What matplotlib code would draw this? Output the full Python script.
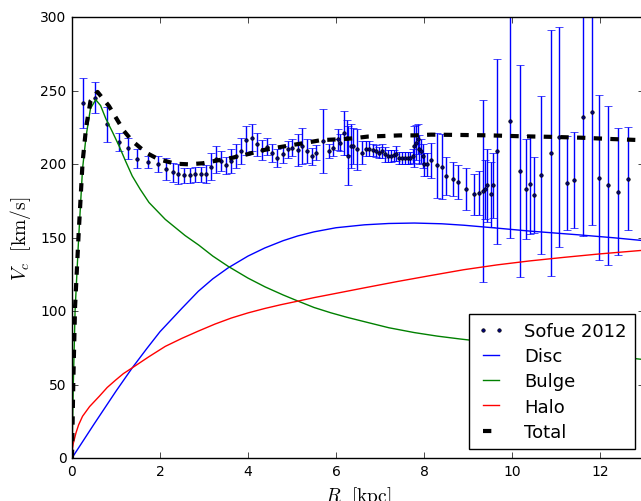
import matplotlib
matplotlib.use('Agg')
import matplotlib.pyplot as plt

# Sofue 2012 rotation curve points (R [kpc], V [km/s], error)
r_obs = [0.26, 0.52, 0.80, 1.07, 1.27, 1.47, 1.73, 1.95, 2.14, 2.29,
         2.42, 2.55, 2.68, 2.80, 2.93, 3.05, 3.15, 3.27, 3.38, 3.51,
         3.62, 3.73, 3.85, 3.96, 4.08, 4.21, 4.32, 4.43, 4.55, 4.66,
         4.79, 4.90, 5.01, 5.13, 5.22, 5.34, 5.45, 5.54, 5.70, 5.84,
         5.94, 6.05, 6.10, 6.18, 6.24, 6.28, 6.33, 6.39, 6.48, 6.58,
         6.68, 6.75, 6.83, 6.90, 6.98, 7.05, 7.12, 7.18, 7.25, 7.31,
         7.37, 7.44, 7.50, 7.57, 7.63, 7.69, 7.74, 7.78, 7.82, 7.86,
         7.89, 7.93, 7.97, 8.00, 8.06, 8.17, 8.29, 8.40, 8.50, 8.65,
         8.78, 8.95, 9.13, 9.25, 9.34, 9.38, 9.44, 9.53, 9.57, 9.66,
         9.95, 10.19, 10.32, 10.40, 10.49, 10.67, 10.88, 11.07, 11.24, 11.42,
         11.62, 11.81, 11.98, 12.18, 12.41, 12.63]
v_obs = [242.0, 245.4, 227.2, 215.2, 210.9, 203.9, 201.5, 200.0, 196.6, 194.7,
         193.2, 192.5, 192.5, 193.2, 193.2, 193.2, 198.4, 203.4, 202.2, 199.3,
         202.2, 205.6, 209.0, 216.3, 218.2, 213.6, 209.7, 212.0, 207.5, 204.5,
         206.8, 210.2, 211.4, 209.7, 212.4, 209.0, 205.4, 208.0, 215.8, 209.0,
         211.4, 217.0, 214.8, 221.6, 218.2, 205.8, 212.4, 212.4, 210.2, 208.0,
         210.7, 210.7, 209.7, 209.0, 208.0, 209.0, 206.8, 205.6, 205.6, 206.0,
         207.3, 204.5, 204.5, 204.5, 204.5, 204.5, 205.6, 212.4, 214.8, 217.3,
         210.2, 209.0, 205.6, 200.0, 200.0, 202.7, 199.3, 198.4, 192.0, 189.8,
         188.2, 183.4, 179.5, 180.2, 181.8, 182.9, 185.7, 179.5, 185.7, 209.0,
         229.5, 195.4, 182.9, 186.3, 179.0, 192.7, 207.7, 218.6, 187.0, 189.3,
         232.2, 235.9, 190.9, 185.7, 181.4, 190.2]
v_err = [17, 10.7, 12, 6, 7, 6.5, 4, 5.5, 7.5, 6.5,
         6.8, 5, 5, 5, 5, 6, 9, 9.4, 7, 6,
         8, 8, 9, 10, 9, 8, 7, 6, 6, 6,
         6, 6, 6, 11, 12, 8, 6, 5, 22, 5,
         6, 7, 6, 15, 12, 20, 15, 12, 14, 8,
         5, 5, 4, 4, 4, 5, 5, 4, 4, 4,
         5, 4, 4, 4, 4, 4, 5, 14, 12, 10,
         10, 8, 8, 8, 8, 12, 22, 22, 12.7, 11.6,
         11.6, 14.4, 14, 15, 62, 20, 25, 22, 22, 63,
         80, 72, 34, 34, 26, 54, 84, 75, 32, 33,
         81, 77, 56, 54, 43, 35]

# model components
r_disc = [0, 0.5, 1.0, 1.37, 1.7, 2.0, 2.5, 2.87, 3.2, 3.55, 4.0, 4.38,
          4.8, 5.13, 5.5, 6.0, 6.65, 7.2, 7.78, 8.4, 8.91, 9.6, 10.41,
          11.5, 12.3, 13.0]
v_disc = [0, 23, 45.5, 61.4, 74.5, 86, 102, 113.5, 122, 129.5, 137.5, 143,
          148, 151.2, 154, 156.8, 158.8, 159.7, 160, 159.5, 158.5, 156.7, 154.5,
          152, 150, 148]

r_bulge = [0, 0.03, 0.07, 0.15, 0.24, 0.32, 0.42, 0.54, 0.65, 0.77, 0.92,
           1.07, 1.22, 1.37, 1.55, 1.75, 2.12, 2.57, 2.88, 3.2, 3.55, 4.0,
           4.39, 4.8, 5.14, 5.5, 5.88, 6.25, 6.65, 7.2, 7.78, 8.3, 8.83,
           10.0, 11.0, 12.0, 13.0]
v_bulge = [0, 50, 100, 149, 197, 219, 238, 244, 240, 231, 222,
           212.5, 202, 192, 183, 174, 162.5, 151.5, 145, 137.5, 130.5, 122.5,
           116.5, 111, 106.8, 102.5, 98.9, 95.8, 92.8, 88.7, 85.4, 83, 81,
           77, 73.8, 70.3, 67]

r_halo = [0, 0.01, 0.03, 0.09, 0.15, 0.24, 0.4, 0.62, 0.8, 0.99, 1.17,
          1.37, 1.75, 2.12, 2.5, 2.87, 3.25, 3.62, 4.0, 4.38, 4.75, 5.13,
          5.5, 5.88, 6.65, 7.4, 8.16, 8.9, 9.66, 10.4, 11.17, 12.0, 13.0]
v_halo = [0, 6, 10, 17, 22.5, 28.4, 35, 42, 48, 53, 57.5,
          61.4, 69, 76, 81.5, 86.4, 91.2, 95.3, 98.8, 101.8, 104.4, 106.8,
          109.2, 111.4, 115.9, 120.2, 124.3, 128.2, 131.5, 134.2, 136.6, 139, 141.5]

r_total = [0, 0.03, 0.07, 0.15, 0.24, 0.32, 0.42, 0.58, 0.84, 1.18, 1.37,
           1.68, 1.97, 2.35, 2.65, 2.97, 3.35, 3.65, 3.98, 4.32, 4.66, 5.0,
           5.34, 5.67, 6.05, 6.39, 6.73, 7.11, 7.45, 7.79, 8.16, 8.8, 9.5,
           10.2, 10.89, 11.59, 12.28, 13.0]
v_total = [0, 52, 103, 152, 201, 225, 243, 249.3, 239.7, 222.7, 215.9,
           208, 203.4, 200.4, 200, 200.7, 202.9, 204.5, 206.8, 209.5, 211.4, 213.1,
           214.8, 216.5, 217, 217.7, 218.9, 219.3, 219.7, 219.7, 220.2, 220, 219.7,
           219.1, 218.7, 218.1, 217.2, 216.4]

plt.style.use('classic')

fig = plt.figure(figsize=(6.41, 5.02), dpi=100, facecolor='white')
ax = fig.add_axes([0.1123, 0.0857, 0.8924, 0.8775])

# error bars without legend entry, dots carry the label
ax.errorbar(r_obs, v_obs, yerr=v_err, fmt='none', ecolor='b', elinewidth=1,
            capsize=3)
ax.plot(r_obs, v_obs, linestyle='none', marker='.', color='navy', mec='k',
        ms=5, label='Sofue 2012')

ax.plot(r_disc, v_disc, 'b-', lw=1, label='Disc')
ax.plot(r_bulge, v_bulge, 'g-', lw=1, label='Bulge')
ax.plot(r_halo, v_halo, 'r-', lw=1, label='Halo')
ax.plot(r_total, v_total, 'k--', lw=3, label='Total')

ax.set_xlim(0, 13)
ax.set_ylim(0, 300)
ax.set_xticks([0, 2, 4, 6, 8, 10, 12])
ax.tick_params(labelsize=10)

ax.set_xlabel(r'$R\ \ [\mathrm{kpc}]$', fontsize=14)
ax.set_ylabel(r'$V_c\ \ [\mathrm{km/s}]$', fontsize=14)

ax.legend(loc='lower right', numpoints=2, fontsize=13, handlelength=1.5,
          handletextpad=1.1, labelspacing=0.4, borderpad=0.45)

fig.savefig('out.png', dpi=100, facecolor='white')
